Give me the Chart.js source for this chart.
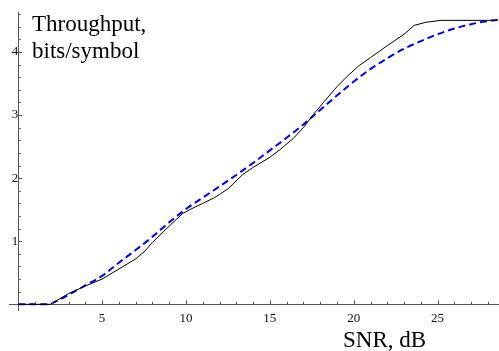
<!DOCTYPE html>
<html>
<head>
<meta charset="utf-8">
<script src="https://cdn.jsdelivr.net/npm/chart.js@4/dist/chart.umd.min.js"></script>
<style>
  body { margin: 0; background: #fff; }
  canvas { display: block; }
</style>
</head>
<body>
<canvas id="throughput-chart" width="499" height="351"></canvas>
<script>
// simulated curve (solid black)
var simSnr = [0, 1.9, 3, 4, 5, 6, 7, 7.5, 8, 9, 9.8, 10.3, 11, 11.7, 12.5, 13.4, 14, 15, 15.6, 16.4, 17, 17.6, 18.2, 19, 19.6, 20.3, 21, 22, 23, 23.6, 24.3, 25.2, 28.5];
var simThroughput = [0, 0, 0.17, 0.29, 0.40, 0.56, 0.72, 0.83, 0.98, 1.24, 1.44, 1.51, 1.60, 1.69, 1.83, 2.06, 2.17, 2.33, 2.45, 2.63, 2.80, 3.01, 3.20, 3.45, 3.61, 3.78, 3.91, 4.10, 4.28, 4.42, 4.47, 4.50, 4.50];

// fitted curve (blue dashed)
var fitSnr = [0, 1.8, 2.2, 3, 4, 5, 6, 7, 8, 9, 10, 11, 12, 13, 14, 15, 16, 17, 18, 19, 20, 21, 22, 23, 24, 25, 26, 27, 28, 28.6];
var fitThroughput = [0, 0, 0.04, 0.15, 0.30, 0.45, 0.66, 0.86, 1.07, 1.30, 1.51, 1.69, 1.87, 2.05, 2.24, 2.44, 2.64, 2.85, 3.08, 3.31, 3.53, 3.73, 3.90, 4.05, 4.17, 4.28, 4.37, 4.44, 4.49, 4.51];

var xTickLabels = [5, 10, 15, 20, 25];
var yTickLabels = [1, 2, 3, 4];
var yLabelLines = ["Throughput,", "bits/symbol"];
var xLabel = "SNR, dB";

var xTicks = [];
for (var i = 0; i <= 28; i++) xTicks.push(i);
var yTicks = [];
for (var k = 0; k <= 23; k++) yTicks.push(Math.round(k * 2) / 10);

function toPoints(xs, ys) {
  var pts = [];
  for (var i = 0; i < xs.length; i++) pts.push({x: xs[i], y: ys[i]});
  return pts;
}

// Mathematica style inward tick marks + axis captions
var axisDecor = {
  id: 'axisDecor',
  afterDraw: function (chart) {
    var ctx = chart.ctx;
    var xs = chart.scales.x, ys = chart.scales.y;
    var x0 = xs.getPixelForValue(0), y0 = ys.getPixelForValue(0);
    ctx.save();
    ctx.strokeStyle = '#555';
    ctx.lineWidth = 1;
    ctx.beginPath();
    xTicks.forEach(function (v) {
      if (v === 0) return;
      var px = Math.round(xs.getPixelForValue(v)) + 0.5;
      var len = v % 5 === 0 ? 4 : 2.5;
      ctx.moveTo(px, y0);
      ctx.lineTo(px, y0 - len);
    });
    yTicks.forEach(function (v) {
      if (v === 0) return;
      var py = Math.round(ys.getPixelForValue(v)) + 0.5;
      var len = Math.abs(v - Math.round(v)) < 1e-6 ? 4 : 2.5;
      ctx.moveTo(x0, py);
      ctx.lineTo(x0 + len, py);
    });
    ctx.stroke();

    ctx.fillStyle = '#000';
    ctx.font = '23px "Liberation Serif"';
    ctx.textBaseline = 'alphabetic';
    ctx.fillText(yLabelLines[0], 32, 30.5);
    ctx.fillText(yLabelLines[1], 32, 58.3);
    ctx.fillText(xLabel, 343, 346.5);
    ctx.restore();
  }
};

var tickFont = {family: 'Liberation Serif', size: 13};

new Chart(document.getElementById("throughput-chart"), {
  type: 'line',
  data: {
    datasets: [
      {
        data: toPoints(simSnr, simThroughput),
        borderColor: '#000000',
        borderWidth: 1,
        pointRadius: 0,
        tension: 0,
        fill: false
      },
      {
        data: toPoints(fitSnr, fitThroughput),
        borderColor: '#0000ff',
        borderWidth: 2,
        borderDash: [7, 4],
        pointRadius: 0,
        cubicInterpolationMode: 'monotone',
        fill: false
      }
    ]
  },
  options: {
    responsive: false,
    animation: false,
    events: [],
    layout: {padding: {left: 9, right: 1, top: 8, bottom: 41}},
    plugins: {legend: {display: false}, tooltip: {enabled: false}, title: {display: false}},
    scales: {
      x: {
        type: 'linear',
        position: {y: 0},
        min: -0.55,
        max: 28.6,
        afterBuildTicks: function (scale) {
          scale.ticks = xTicks.map(function (v) { return {value: v}; });
        },
        grid: {drawOnChartArea: false, drawTicks: false},
        border: {display: true, color: '#555', width: 1},
        ticks: {
          autoSkip: false,
          maxRotation: 0,
          padding: 6,
          color: '#111',
          font: tickFont,
          callback: function (v) { return xTickLabels.indexOf(v) >= 0 ? String(v) : ''; }
        }
      },
      y: {
        type: 'linear',
        position: {x: 0},
        min: -0.09,
        max: 4.62,
        afterBuildTicks: function (scale) {
          scale.ticks = yTicks.map(function (v) { return {value: v}; });
        },
        grid: {drawOnChartArea: false, drawTicks: false},
        border: {display: true, color: '#555', width: 1},
        ticks: {
          autoSkip: false,
          padding: 5,
          color: '#111',
          font: tickFont,
          callback: function (v) { return yTickLabels.indexOf(v) >= 0 ? String(v) : ''; }
        }
      }
    }
  },
  plugins: [axisDecor]
});
</script>
</body>
</html>
